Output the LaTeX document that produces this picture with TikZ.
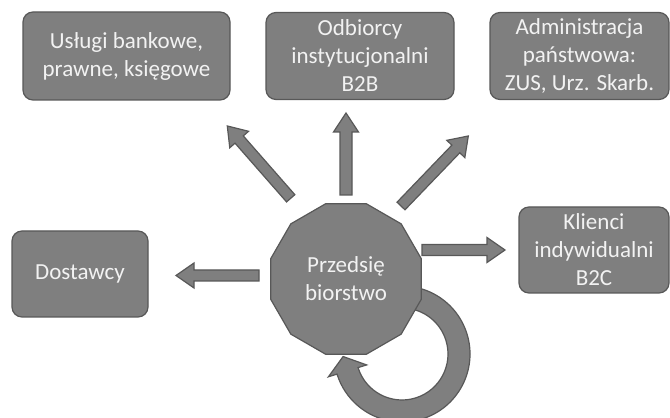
\documentclass[tikz,border=0pt]{standalone}
\usepackage{fontspec}
\setmainfont{Carlito}
\usetikzlibrary{calc,shapes.geometric}
\definecolor{shapefill}{RGB}{127,127,127}
\definecolor{shapeedge}{RGB}{88,88,88}
\definecolor{shapetext}{RGB}{242,242,242}
\tikzset{
 ba shaft/.store in=\bashaft, ba head/.store in=\bahead, ba len/.store in=\balen,
 ba shaft=5.5pt, ba head=12.5pt, ba len=18pt,
 shapebase/.style={fill=shapefill, draw=shapeedge, line width=1.2pt, line join=miter},
 box/.style={shapebase, rounded corners=10pt, align=center, inner sep=0pt, text=shapetext, font=\fontsize{23}{28}\selectfont},
 hub/.style={shapebase, regular polygon, regular polygon sides=12, minimum size=156pt, inner sep=0pt, align=center, text=shapetext, font=\fontsize{23}{28}\selectfont},
 blockarrow/.style={to path={let \p1=($(\tikztotarget)-(\tikztostart)$), \n1={atan2(\y1,\x1)} in
   ($(\tikztostart)+({\n1+90}:\bashaft)$)
   -- ($(\tikztotarget)+({\n1+180}:\balen)+({\n1+90}:\bashaft)$)
   -- ($(\tikztotarget)+({\n1+180}:\balen)+({\n1+90}:\bahead)$)
   -- (\tikztotarget)
   -- ($(\tikztotarget)+({\n1+180}:\balen)+({\n1-90}:\bahead)$)
   -- ($(\tikztotarget)+({\n1+180}:\balen)+({\n1-90}:\bashaft)$)
   -- ($(\tikztostart)+({\n1-90}:\bashaft)$) -- cycle}},
}
\begin{document}
\begin{tikzpicture}[x=1pt,y=1pt]
\fill[white] (0,0) rectangle (670,418);
\useasboundingbox (0,0) rectangle (670,418);
\clip (0,0) rectangle (670,418);
% arrow end points
\coordinate (lt) at (259,142.5); \coordinate (lh) at (176,142.5);
\coordinate (rt) at (422,168); \coordinate (rh) at (505,168);
\coordinate (ut) at (346,223); \coordinate (uh) at (346,305);
\coordinate (ult) at (290.7,219.7); \coordinate (ulh) at (227.3,292);
\coordinate (urt) at (401,212); \coordinate (urh) at (468.3,282);
\path[shapebase] (lt) to[blockarrow] (lh);
\path[shapebase] (rt) to[blockarrow] (rh);
\path[shapebase, ba shaft=6pt, ba len=19pt] (ut) to[blockarrow] (uh);
\path[shapebase] (ult) to[blockarrow] (ulh);
\path[shapebase] (urt) to[blockarrow] (urh);
% self loop
\coordinate (lc) at (402,64);
\coordinate (ltip) at ($(lc)+(-162.8:57)+(107.2:15)$);
\path[shapebase] ($(lc)+(110:68)$) arc[start angle=110,end angle=-162.8,radius=68]
 -- ($(lc)+(-162.8:77)$) -- (ltip) -- ($(lc)+(-162.8:37)$) -- ($(lc)+(-162.8:46)$)
 arc[start angle=-162.8,end angle=110,radius=46] -- cycle;
% nodes
\node[hub] (firm) at (346,139) {Przedsię\\biorstwo};
\node[box, minimum width=207pt, minimum height=88pt] (bank) at (126.5,362) {Usługi bankowe,\\prawne, księgowe};
\node[box, minimum width=188pt, minimum height=87pt] (b2b) at (360,362) {Odbiorcy\\instytucjonalni\\B2B};
\node[box, minimum width=179pt, minimum height=87pt] (adm) at (579.5,362) {Administracja\\państwowa:\\ZUS, Urz. Skarb.};
\node[box, minimum width=150pt, minimum height=86pt] (b2c) at (594,168) {Klienci\\indywidualni\\B2C};
\node[box, minimum width=136pt, minimum height=86pt] (dost) at (80,144) {Dostawcy};
\end{tikzpicture}
\end{document}
